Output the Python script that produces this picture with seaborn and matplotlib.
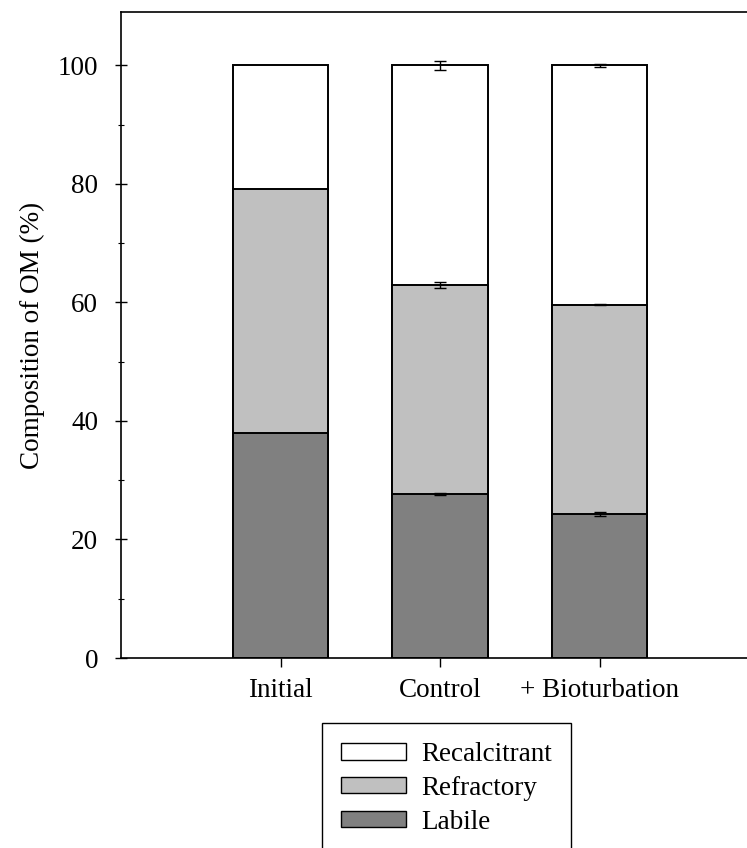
import matplotlib
matplotlib.use("Agg")
import matplotlib.pyplot as plt
from matplotlib.patches import Patch
from matplotlib.ticker import MultipleLocator
import seaborn as sns
import numpy as np
import pandas as pd

treatments = ["Initial", "Control", "+ Bioturbation"]
labile = [38.0, 27.7, 24.3]
refractory = [41.2, 35.3, 35.3]
recalcitrant = [20.8, 37.0, 40.4]
# no error bars for the initial sample
err_labile = [np.nan, 0.2, 0.35]
err_refractory = [np.nan, 0.5, 0.1]
err_recalcitrant = [np.nan, 0.75, 0.25]

sns.set_style("ticks")
plt.rcParams["font.family"] = ["Liberation Serif", "DejaVu Serif"]
plt.rcParams["text.color"] = "black"
plt.rcParams["axes.labelcolor"] = "black"
plt.rcParams["xtick.color"] = "black"
plt.rcParams["ytick.color"] = "black"

lab = np.array(labile)
ref_top = lab + np.array(refractory)
rec_top = ref_top + np.array(recalcitrant)

df = pd.DataFrame({"treatment": treatments, "labile": lab,
                   "refractory": ref_top, "recalcitrant": rec_top})

fig = plt.figure(figsize=(7.47, 8.48), dpi=100)
ax = fig.add_axes([121 / 747, 190 / 848, 638 / 747, 646 / 848])

layers = [("recalcitrant", "white"), ("refractory", "#c0c0c0"), ("labile", "#808080")]
for col, color in layers:
    sns.barplot(data=df, x="treatment", y=col, color=color, width=0.6,
                edgecolor="black", linewidth=1.4, saturation=1, ax=ax, errorbar=None)

xpos = np.arange(len(treatments))
for tops, errs in [(rec_top, err_recalcitrant), (ref_top, err_refractory), (lab, err_labile)]:
    e = np.array(errs)
    keep = ~np.isnan(e)
    ax.errorbar(xpos[keep], tops[keep], yerr=e[keep], fmt="none", ecolor="black",
                elinewidth=1, capsize=4.5, capthick=1, zorder=5)

ax.set_xlim(-1, 3)
ax.set_ylim(0, 109)
ax.yaxis.set_major_locator(MultipleLocator(20))
ax.yaxis.set_minor_locator(MultipleLocator(10))
ax.tick_params(axis="y", which="major", direction="inout", length=8.6, width=1,
               labelsize=19.5, pad=12)
ax.tick_params(axis="y", which="minor", direction="inout", length=4.5, width=0.8)
ax.tick_params(axis="x", direction="out", length=6.5, width=1, labelsize=19.5, pad=8)
ax.set_xlabel("")
ax.set_ylabel("Composition of OM (%)", fontsize=19.5, labelpad=9)
for s in ["left", "bottom", "top"]:
    ax.spines[s].set_linewidth(1.2)
    ax.spines[s].set_color("black")
ax.spines["right"].set_visible(False)

handles = [Patch(facecolor="white", edgecolor="black", linewidth=1, label="Recalcitrant"),
           Patch(facecolor="#c0c0c0", edgecolor="black", linewidth=1, label="Refractory"),
           Patch(facecolor="#808080", edgecolor="black", linewidth=1, label="Labile")]
leg = fig.legend(handles=handles, loc="upper left", bbox_to_anchor=(322 / 747, 1 - 723 / 848),
                 fontsize=19.5, frameon=True, fancybox=False, borderpad=0.7,
                 handlelength=2.4, handleheight=0.55, handletextpad=0.55,
                 labelspacing=0.33, borderaxespad=0)
leg.get_frame().set_edgecolor("black")
leg.get_frame().set_linewidth(1)
leg.get_frame().set_alpha(1)

fig.savefig("out.png", dpi=100)
